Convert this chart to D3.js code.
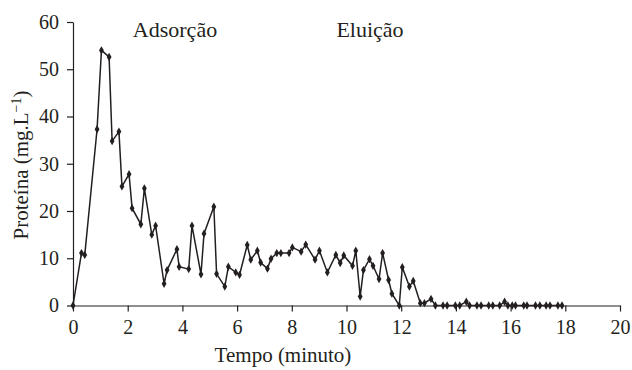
<html>
<head>
<script src="https://d3js.org/d3.v7.min.js"></script>
<style>
  body { margin: 0; background: #fff; }
  text { font-family: "Liberation Serif", "DejaVu Serif", serif; fill: #231f20; }
  .axis path, .axis line { stroke: #231f20; stroke-width: 1.2; }
</style>
</head>
<body>
<div id="chart"></div>
<script>
// tempo (minuto)
const tempo = [0, 0.31, 0.43, 0.88, 1.04, 1.32, 1.43, 1.68, 1.79, 2.05, 2.16, 2.48, 2.61, 2.88, 3.02,
  3.33, 3.44, 3.80, 3.88, 4.23, 4.35, 4.68, 4.79, 5.15, 5.25, 5.55, 5.68, 5.95, 6.09, 6.37, 6.50,
  6.74, 6.86, 7.11, 7.24, 7.45, 7.60, 7.90, 8.02, 8.34, 8.51, 8.85, 9.01, 9.30, 9.61, 9.77, 9.90,
  10.22, 10.34, 10.50, 10.62, 10.84, 10.97, 11.19, 11.32, 11.54, 11.66, 11.93, 12.04, 12.30, 12.44,
  12.70, 12.85, 13.09, 13.25, 13.53, 13.68, 13.98, 14.14, 14.38, 14.50, 14.77, 14.92, 15.20, 15.35,
  15.60, 15.78, 15.90, 16.06, 16.18, 16.48, 16.60, 16.91, 17.07, 17.30, 17.44, 17.73, 17.88];
// proteína (mg.L-1)
const proteina = [0, 11.1, 10.7, 37.3, 54.0, 52.6, 34.8, 36.8, 25.2, 27.8, 20.6, 17.2, 24.8, 15.0, 16.9,
  4.6, 7.5, 11.9, 8.2, 7.7, 16.9, 6.6, 15.2, 20.9, 6.7, 4.0, 8.2, 7.0, 6.5, 12.8, 9.7,
  11.6, 9.1, 7.8, 9.9, 11.1, 11.1, 11.1, 12.3, 11.4, 12.9, 9.7, 11.6, 7.0, 10.7, 9.0, 10.6,
  8.4, 11.6, 1.9, 7.5, 9.8, 8.4, 5.6, 11.1, 5.4, 2.5, 0, 8.1, 4.0, 5.2,
  0.5, 0.5, 1.4, 0, 0, 0, 0, 0, 0.8, 0, 0, 0, 0, 0,
  0, 0.8, 0, 0, 0, 0, 0, 0, 0, 0, 0, 0, 0];
const xTicks = [0, 2, 4, 6, 8, 10, 12, 14, 16, 18, 20];
const yTicks = [0, 10, 20, 30, 40, 50, 60];

const svg = d3.select('#chart').append('svg')
  .attr('width', 632)
  .attr('height', 370);

const margins = { top: 22, right: 12, bottom: 65, left: 73 };
const chartWidth = 620 - margins.left;
const chartHeight = 305.5 - margins.top;

const chartArea = svg.append('g')
  .attr('transform', `translate(${margins.left},${margins.top})`);

const xScale = d3.scaleLinear().domain([0, 20]).range([0, chartWidth]);
const yScale = d3.scaleLinear().domain([0, 60]).range([chartHeight, 0]);

const bottomAxis = d3.axisBottom(xScale).tickValues(xTicks).tickSize(6).tickSizeOuter(0).tickPadding(8);
chartArea.append('g')
  .attr('class', 'axis')
  .attr('transform', `translate(0,${chartHeight})`)
  .call(bottomAxis)
  .selectAll('text').style('font-size', '20px').attr('fill', '#231f20');

const leftAxis = d3.axisLeft(yScale).tickValues(yTicks).tickSize(6).tickSizeOuter(0).tickPadding(8);
chartArea.append('g')
  .attr('class', 'axis')
  .call(leftAxis)
  .selectAll('text').style('font-size', '20px').attr('fill', '#231f20');

chartArea.selectAll('.domain').attr('stroke', '#231f20');

const data = tempo.map((t, i) => ({ t: t, p: proteina[i] }));

const line = d3.line().x(d => xScale(d.t)).y(d => yScale(d.p));
chartArea.append('path')
  .datum(data)
  .attr('d', line)
  .attr('fill', 'none')
  .attr('stroke', '#231f20')
  .attr('stroke-width', 1.5);

chartArea.selectAll('.pt')
  .data(data)
  .enter()
  .append('path')
  .attr('class', 'pt')
  .attr('d', d3.symbol().type(d3.symbolDiamond).size(20))
  .attr('transform', d => `translate(${xScale(d.t)},${yScale(d.p)})`)
  .attr('fill', '#231f20');

// labels
svg.append('text')
  .attr('x', 175).attr('y', 37)
  .attr('text-anchor', 'middle')
  .style('font-size', '22px')
  .text('Adsorção');

svg.append('text')
  .attr('x', 370).attr('y', 37)
  .attr('text-anchor', 'middle')
  .style('font-size', '22px')
  .text('Eluição');

svg.append('text')
  .attr('x', 283).attr('y', 362)
  .attr('text-anchor', 'middle')
  .style('font-size', '21px')
  .text('Tempo (minuto)');

const yLabel = svg.append('text')
  .attr('transform', 'translate(28,165) rotate(-90)')
  .attr('text-anchor', 'middle')
  .style('font-size', '21px');
yLabel.append('tspan').text('Proteína (mg.L');
yLabel.append('tspan').attr('dy', -7).style('font-size', '14px').text('−1');
yLabel.append('tspan').attr('dy', 7).text(')');
</script>
</body>
</html>
